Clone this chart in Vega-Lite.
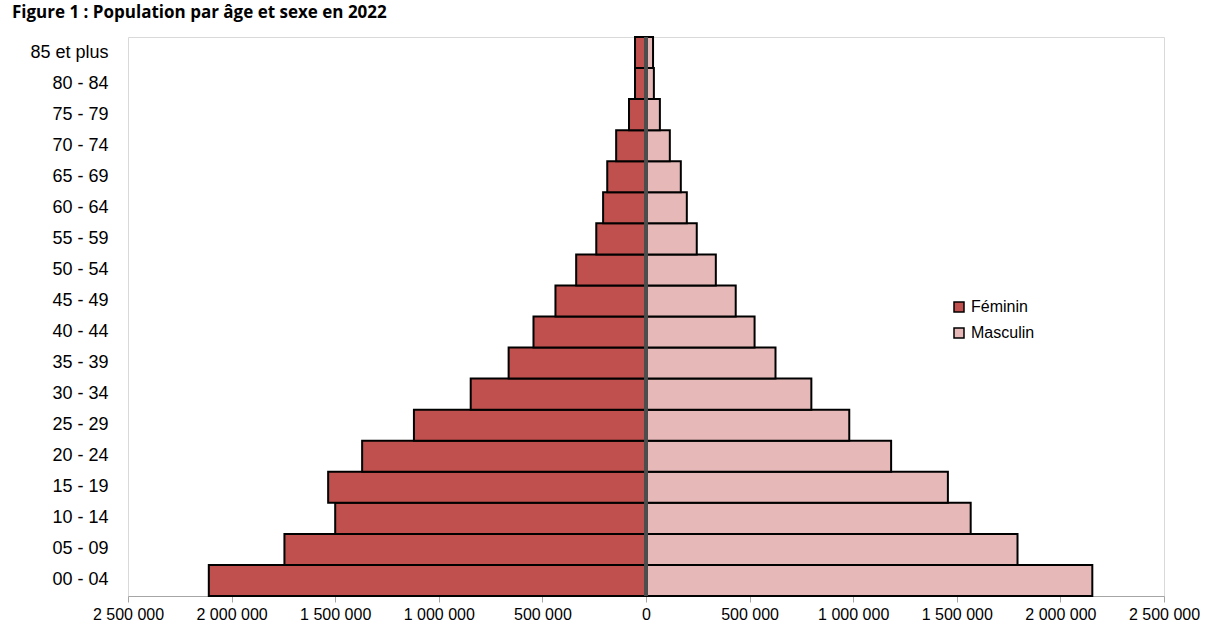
{
  "$schema": "https://vega.github.io/schema/vega-lite/v6.json",
  "width": 1036,
  "height": 559,
  "autosize": {"type": "none"},
  "padding": {"left": 128, "top": 37, "right": 44, "bottom": 39},
  "background": "white",
  "title": {
    "text": "Figure 1 : Population par âge et sexe en 2022",
    "anchor": "start",
    "frame": "group",
    "orient": "top",
    "baseline": "top",
    "offset": 14,
    "dx": -116,
    "font": "Open Sans",
    "fontWeight": "bold",
    "fontSize": 17,
    "color": "black"
  },
  "config": {
    "view": {"stroke": "#d9d9d9", "strokeWidth": 1},
    "font": "Liberation Sans"
  },
  "data": {
    "values": [
      {"age": "00 - 04", "sexe": "Féminin", "population": -2110000},
      {"age": "05 - 09", "sexe": "Féminin", "population": -1745000},
      {"age": "10 - 14", "sexe": "Féminin", "population": -1500000},
      {"age": "15 - 19", "sexe": "Féminin", "population": -1534000},
      {"age": "20 - 24", "sexe": "Féminin", "population": -1370000},
      {"age": "25 - 29", "sexe": "Féminin", "population": -1120000},
      {"age": "30 - 34", "sexe": "Féminin", "population": -846000},
      {"age": "35 - 39", "sexe": "Féminin", "population": -663000},
      {"age": "40 - 44", "sexe": "Féminin", "population": -543000},
      {"age": "45 - 49", "sexe": "Féminin", "population": -437000},
      {"age": "50 - 54", "sexe": "Féminin", "population": -337000},
      {"age": "55 - 59", "sexe": "Féminin", "population": -240000},
      {"age": "60 - 64", "sexe": "Féminin", "population": -207000},
      {"age": "65 - 69", "sexe": "Féminin", "population": -187000},
      {"age": "70 - 74", "sexe": "Féminin", "population": -144000},
      {"age": "75 - 79", "sexe": "Féminin", "population": -82000},
      {"age": "80 - 84", "sexe": "Féminin", "population": -53000},
      {"age": "85 et plus", "sexe": "Féminin", "population": -53000},
      {"age": "00 - 04", "sexe": "Masculin", "population": 2154000},
      {"age": "05 - 09", "sexe": "Masculin", "population": 1793000},
      {"age": "10 - 14", "sexe": "Masculin", "population": 1567000},
      {"age": "15 - 19", "sexe": "Masculin", "population": 1457000},
      {"age": "20 - 24", "sexe": "Masculin", "population": 1183000},
      {"age": "25 - 29", "sexe": "Masculin", "population": 981000},
      {"age": "30 - 34", "sexe": "Masculin", "population": 798000},
      {"age": "35 - 39", "sexe": "Masculin", "population": 625000},
      {"age": "40 - 44", "sexe": "Masculin", "population": 524000},
      {"age": "45 - 49", "sexe": "Masculin", "population": 433000},
      {"age": "50 - 54", "sexe": "Masculin", "population": 337000},
      {"age": "55 - 59", "sexe": "Masculin", "population": 245000},
      {"age": "60 - 64", "sexe": "Masculin", "population": 197000},
      {"age": "65 - 69", "sexe": "Masculin", "population": 168000},
      {"age": "70 - 74", "sexe": "Masculin", "population": 115000},
      {"age": "75 - 79", "sexe": "Masculin", "population": 67000},
      {"age": "80 - 84", "sexe": "Masculin", "population": 38000},
      {"age": "85 et plus", "sexe": "Masculin", "population": 34000}
    ]
  },
  "layer": [
    {
      "mark": {"type": "bar", "stroke": "black", "strokeWidth": 2},
      "encoding": {
        "y": {
          "field": "age",
          "type": "nominal",
          "sort": ["85 et plus", "80 - 84", "75 - 79", "70 - 74", "65 - 69", "60 - 64", "55 - 59", "50 - 54", "45 - 49", "40 - 44", "35 - 39", "30 - 34", "25 - 29", "20 - 24", "15 - 19", "10 - 14", "05 - 09", "00 - 04"],
          "scale": {"paddingInner": 0, "paddingOuter": 0},
          "axis": {
            "title": null,
            "ticks": false,
            "domain": false,
            "labelPadding": 20,
            "labelFont": "Liberation Sans",
            "labelFontSize": 18,
            "labelColor": "black"
          }
        },
        "x": {
          "field": "population",
          "type": "quantitative",
          "scale": {"domain": [-2500000, 2500000], "nice": false},
          "axis": {
            "title": null,
            "values": [-2500000, -2000000, -1500000, -1000000, -500000, 0, 500000, 1000000, 1500000, 2000000, 2500000],
            "grid": false,
            "domainColor": "#a6a6a6",
            "domainWidth": 1,
            "tickColor": "#a6a6a6",
            "tickSize": 6,
            "labelPadding": 4,
            "labelOverlap": false,
            "labelFlush": false,
            "labelBound": false,
            "labelFont": "Liberation Sans",
            "labelFontSize": 16,
            "labelColor": "black",
            "labelExpr": "replace(format(abs(datum.value), ','), regexp(',', 'g'), ' ')"
          }
        },
        "color": {
          "field": "sexe",
          "type": "nominal",
          "scale": {"domain": ["Féminin", "Masculin"], "range": ["#C0504D", "#E6B9B8"]},
          "legend": {
            "title": null,
            "orient": "none",
            "legendX": 823,
            "legendY": 262,
            "padding": 0,
            "symbolType": "square",
            "symbolSize": 100,
            "symbolStrokeColor": "black",
            "symbolStrokeWidth": 1.5,
            "symbolOpacity": 1,
            "labelFont": "Liberation Sans",
            "labelFontSize": 16,
            "labelColor": "black",
            "labelOffset": 4,
            "rowPadding": 10
          }
        }
      }
    },
    {
      "mark": {"type": "rule", "color": "#4d4d4d", "strokeWidth": 2.5},
      "encoding": {"x": {"datum": 0}}
    }
  ]
}
